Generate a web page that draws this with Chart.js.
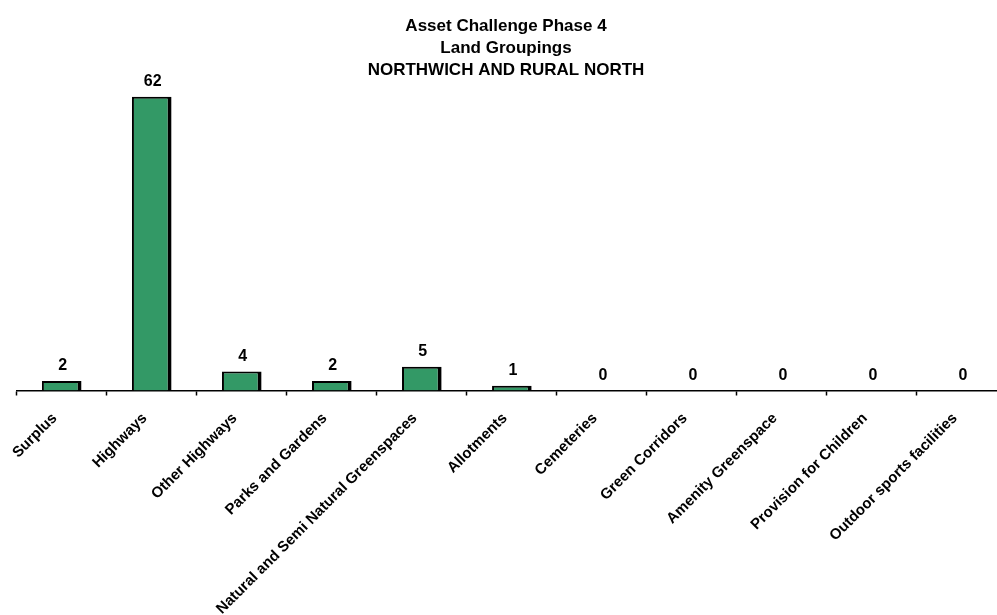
<!DOCTYPE html>
<html>
<head>
<meta charset="utf-8">
<script src="https://cdn.jsdelivr.net/npm/chart.js@4"></script>
<style>
  html, body { margin: 0; padding: 0; background: #fff; overflow: hidden; }
  #wrap { position: relative; width: 1007px; height: 615px; }
</style>
</head>
<body>
<div id="wrap"><canvas id="myChart"></canvas></div>
<script>
// data
const titleLines = ['Asset Challenge Phase 4', 'Land Groupings', 'NORTHWICH AND RURAL NORTH']
const categories = [
  'Surplus',
  'Highways',
  'Other Highways',
  'Parks and Gardens',
  'Natural and Semi Natural Greenspaces',
  'Allotments',
  'Cemeteries',
  'Green Corridors',
  'Amenity Greenspace',
  'Provision for Children',
  'Outdoor sports facilities'
]
const counts = [2, 62, 4, 2, 5, 1, 0, 0, 0, 0, 0]
const yMax = 66

const FONT = 'Arial, "Liberation Sans", sans-serif'

// numbers above each bar
const valueLabels = {
  id: 'valueLabels',
  afterDatasetsDraw(chart) {
    const ctx = chart.ctx
    const meta = chart.getDatasetMeta(0)
    ctx.save()
    ctx.font = 'bold 16px ' + FONT
    ctx.fillStyle = '#000'
    ctx.textAlign = 'center'
    ctx.textBaseline = 'alphabetic'
    meta.data.forEach((bar, i) => {
      ctx.fillText(String(counts[i]), bar.x + 1, bar.y - 11)
    })
    ctx.restore()
  }
}

new Chart(document.getElementById('myChart').getContext('2d'), {
  type: 'bar',
  data: {
    labels: categories,
    datasets: [{
      data: counts,
      backgroundColor: '#339966',
      borderColor: '#000',
      borderWidth: { top: 2, left: 2, right: 4, bottom: 0 },
      borderSkipped: false,
      barPercentage: 0.44,
      categoryPercentage: 1
    }]
  },
  options: {
    responsive: true,
    maintainAspectRatio: false,
    animation: false,
    devicePixelRatio: 1,
    layout: { padding: { left: 5, right: 0, top: 0, bottom: 0 } },
    plugins: {
      legend: { display: false },
      tooltip: { enabled: false },
      title: {
        display: true,
        text: titleLines,
        color: '#000',
        font: { family: FONT, size: 17, weight: 'bold', lineHeight: 1.27 },
        padding: { top: 16, bottom: -3 }
      }
    },
    scales: {
      y: {
        display: false,
        min: 0,
        max: yMax
      },
      x: {
        border: { display: true, color: '#000', width: 1.5 },
        grid: {
          display: true,
          offset: true,
          drawOnChartArea: false,
          drawTicks: true,
          tickLength: 5,
          tickWidth: 1.5,
          color: '#000'
        },
        ticks: {
          autoSkip: false,
          minRotation: 45,
          maxRotation: 45,
          labelOffset: -7,
          padding: 14,
          color: '#000',
          font: { family: FONT, size: 15, weight: 'bold' }
        },
        afterFit(scale) {
          scale.height = 615 - 390.5
          scale.paddingLeft = 16.7
          scale.paddingRight = 0
        }
      }
    }
  },
  plugins: [valueLabels]
})
</script>
</body>
</html>
